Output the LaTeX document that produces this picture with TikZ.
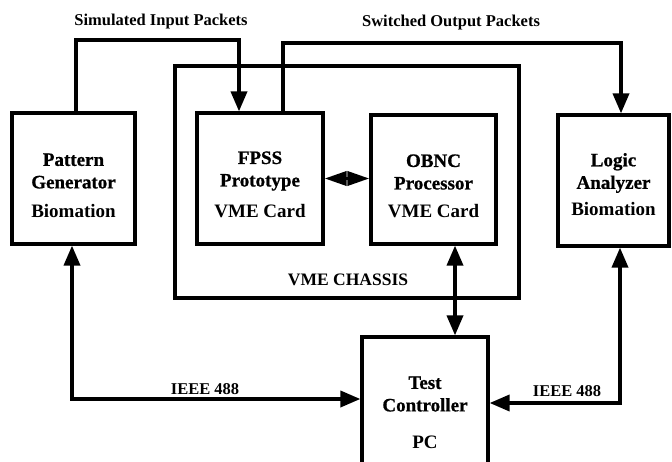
\documentclass[tikz,border=0pt]{standalone}
\usepackage{fontspec}
\setmainfont{Liberation Serif}
\newfontfamily\heavyfont[BoldFeatures={FakeBold=0.8}]{Liberation Serif}
\usetikzlibrary{arrows.meta}
\begin{document}
\begin{tikzpicture}[x=1pt,y=-1pt,
  box/.style={draw,line width=3.2pt,inner sep=0pt},
  bus/.style={line width=3.6pt},
  >={Triangle[length=20pt,width=16pt]},
  title/.style={inner sep=0pt,align=center,font=\fontsize{19}{22.5}\heavyfont\bfseries},
  sub/.style={inner sep=0pt,font=\fontsize{19}{22}\selectfont\bfseries},
  lab/.style={inner sep=0pt,font=\fontsize{16.5}{20}\selectfont\bfseries}]
\useasboundingbox (0,0) rectangle (672,462);
\clip (0,0) rectangle (672,462);
% boxes
\node[box,minimum width=344pt,minimum height=232pt] (ch) at (347,182) {};
\node[box,minimum width=123pt,minimum height=131pt] (pg) at (73.5,178.5) {};
\node[box,minimum width=126pt,minimum height=131pt] (fp) at (260,178.5) {};
\node[box,minimum width=125pt,minimum height=129pt] (ob) at (433.5,179.5) {};
\node[box,minimum width=111pt,minimum height=131pt] (la) at (613.5,180.5) {};
\node[box,minimum width=126pt,minimum height=143pt] (tc) at (425,408.5) {};
% texts
\node[title] (pgT) at (73.5,171) {Pattern\\Generator};
\node[sub] (pgS) at (73.5,211) {Biomation};
\node[title] (fpT) at (260,171) {FPSS\\Prototype};
\node[sub] (fpS) at (260,211) {VME Card};
\node[title] (obT) at (433.5,172) {OBNC\\Processor};
\node[sub] (obS) at (433.5,211) {VME Card};
\node[title] (laT) at (613.5,173) {Logic\\Analyzer};
\node[sub] (laS) at (613.5,209) {Biomation};
\node[title] (tcT) at (425,394) {Test\\Controller};
\node[sub] (tcS) at (425,442) {PC};
\node[lab,font=\fontsize{17.5}{20}\selectfont\bfseries] (chL) at (348,280) {VME CHASSIS};
\node[lab] (simL) at (161,22) {Simulated Input Packets};
\node[lab] (swL) at (451,23) {Switched Output Packets};
\node[lab] (ie1) at (205,389) {IEEE 488};
\node[lab] (ie2) at (567,391) {IEEE 488};
% routing points
\coordinate (a1) at (76,40);
\coordinate (a2) at (239,40);
\coordinate (b1) at (283,43);
\coordinate (b2) at (621,43);
\coordinate (c1) at (455,300);
\coordinate (d1) at (72,399);
\coordinate (e1) at (620,403);
% connectors
\draw[bus,->] (pg.north -| a1) -- (a1) -- (a2) -- (fp.north -| a2);
\draw[bus,->] (fp.north -| b1) -- (b1) -- (b2) -- (la.north -| b2);
\draw[bus,<->,>={Triangle[length=22pt,width=14pt]}] (fp.east) -- (fp.east -| ob.west);
\draw[bus,<->] (ob.south -| c1) -- (tc.north -| c1);
\draw[bus,<->] (pg.south -| d1) -- (d1) -- (tc.west |- d1);
\draw[bus,<->] (la.south -| e1) -- (e1) -- (tc.east |- e1);
\end{tikzpicture}
\end{document}
